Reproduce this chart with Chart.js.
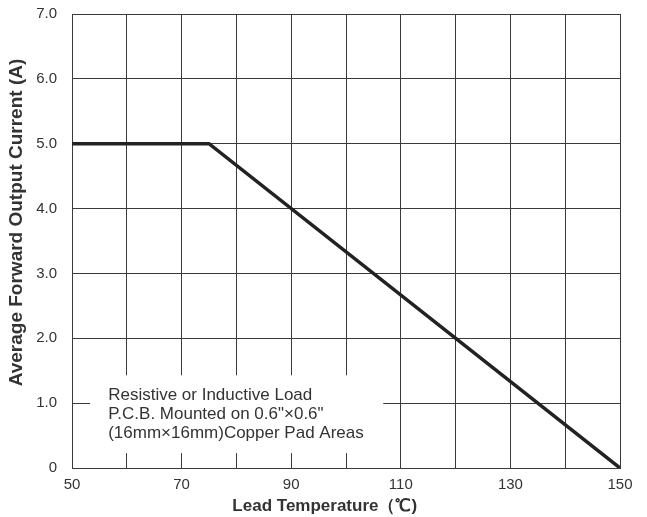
<!DOCTYPE html>
<html lang="en">
<head>
    <meta charset="UTF-8">
    <title>Derating Curve</title>
    <script src="https://cdn.jsdelivr.net/npm/chart.js"></script>
    <style>
        body { margin: 0; background: #fff; }
        .box { width: 647px; height: 517px; position: relative; }
    </style>
</head>
<body>
<div class="box">
    <canvas id="myChart"></canvas>
</div>
<script>
    // curve points
    const temps = [50, 75, 150];
    const currents = [5, 5, 0];
    const noteLines = [
        'Resistive or Inductive Load',
        'P.C.B. Mounted on 0.6"\u00d70.6"',
        '(16mm\u00d716mm)Copper Pad Areas'
    ];
    const xLabelled = [50, 70, 90, 110, 130, 150];

    const FONT = "'Liberation Sans', Arial, sans-serif";

    // white note box sitting over the grid, lower left
    const notePlugin = {
        id: 'note',
        beforeDatasetsDraw(chart) {
            const ctx = chart.ctx;
            const x = chart.scales.x, y = chart.scales.y;
            const left = x.getPixelForValue(53.3);
            const right = x.getPixelForValue(106.8);
            const top = y.getPixelForValue(1.43);
            const bottom = y.getPixelForValue(0.23);
            ctx.save();
            ctx.fillStyle = '#fff';
            ctx.fillRect(left, top, right - left, bottom - top);
            ctx.fillStyle = '#333';
            ctx.font = '17px ' + FONT;
            ctx.textBaseline = 'middle';
            const tx = x.getPixelForValue(56.6);
            for (let i = 0; i < noteLines.length; i++) {
                ctx.fillText(noteLines[i], tx, top + 20 + i * 19);
            }
            ctx.restore();
        }
    };

    const chartData = {
        datasets: [{
            data: temps.map((t, i) => ({ x: t, y: currents[i] })),
            borderColor: '#222',
            borderWidth: 3.5,
            pointRadius: 0,
            tension: 0
        }]
    };

    const options = {
        responsive: true,
        maintainAspectRatio: false,
        animation: false,
        layout: { padding: { left: 0, right: 27, top: 14, bottom: 0 } },
        plugins: { legend: { display: false }, tooltip: { enabled: false } },
        scales: {
            x: {
                type: 'linear',
                min: 50,
                max: 150,
                afterFit(scale) { scale.height = 49; },
                ticks: {
                    stepSize: 10,
                    padding: 8,
                    color: '#333',
                    font: { family: FONT, size: 15 },
                    maxRotation: 0,
                    autoSkip: false,
                    callback: v => xLabelled.includes(v) ? String(v) : ''
                },
                grid: { color: '#3a3a3a', lineWidth: 1, drawTicks: false },
                border: { color: '#3a3a3a', width: 1 },
                title: {
                    display: true,
                    // trailing spaces pull the centred title a little left, as in the source
                    text: 'Lead Temperature（℃)         ',
                    color: '#333',
                    font: { family: FONT, size: 17, weight: 'bold' },
                    padding: { top: 4, bottom: 0 }
                }
            },
            y: {
                min: 0,
                max: 7,
                afterFit(scale) {
                    scale.width = 72;
                    scale.paddingTop = 0;
                    scale.paddingBottom = 0;
                },
                ticks: {
                    stepSize: 1,
                    padding: 15,
                    color: '#333',
                    font: { family: FONT, size: 15 },
                    callback: v => v === 0 ? '0' : v.toFixed(1)
                },
                grid: { color: '#3a3a3a', lineWidth: 1, drawTicks: false },
                border: { color: '#3a3a3a', width: 1 },
                title: {
                    display: true,
                    text: '       Average Forward Output Current (A)',
                    color: '#333',
                    font: { family: FONT, size: 19, weight: 'bold' },
                    padding: { top: 5, bottom: 0 }
                }
            }
        }
    };

    new Chart(document.getElementById('myChart'), {
        type: 'line',
        data: chartData,
        options: options,
        plugins: [notePlugin]
    });
</script>
</body>
</html>
